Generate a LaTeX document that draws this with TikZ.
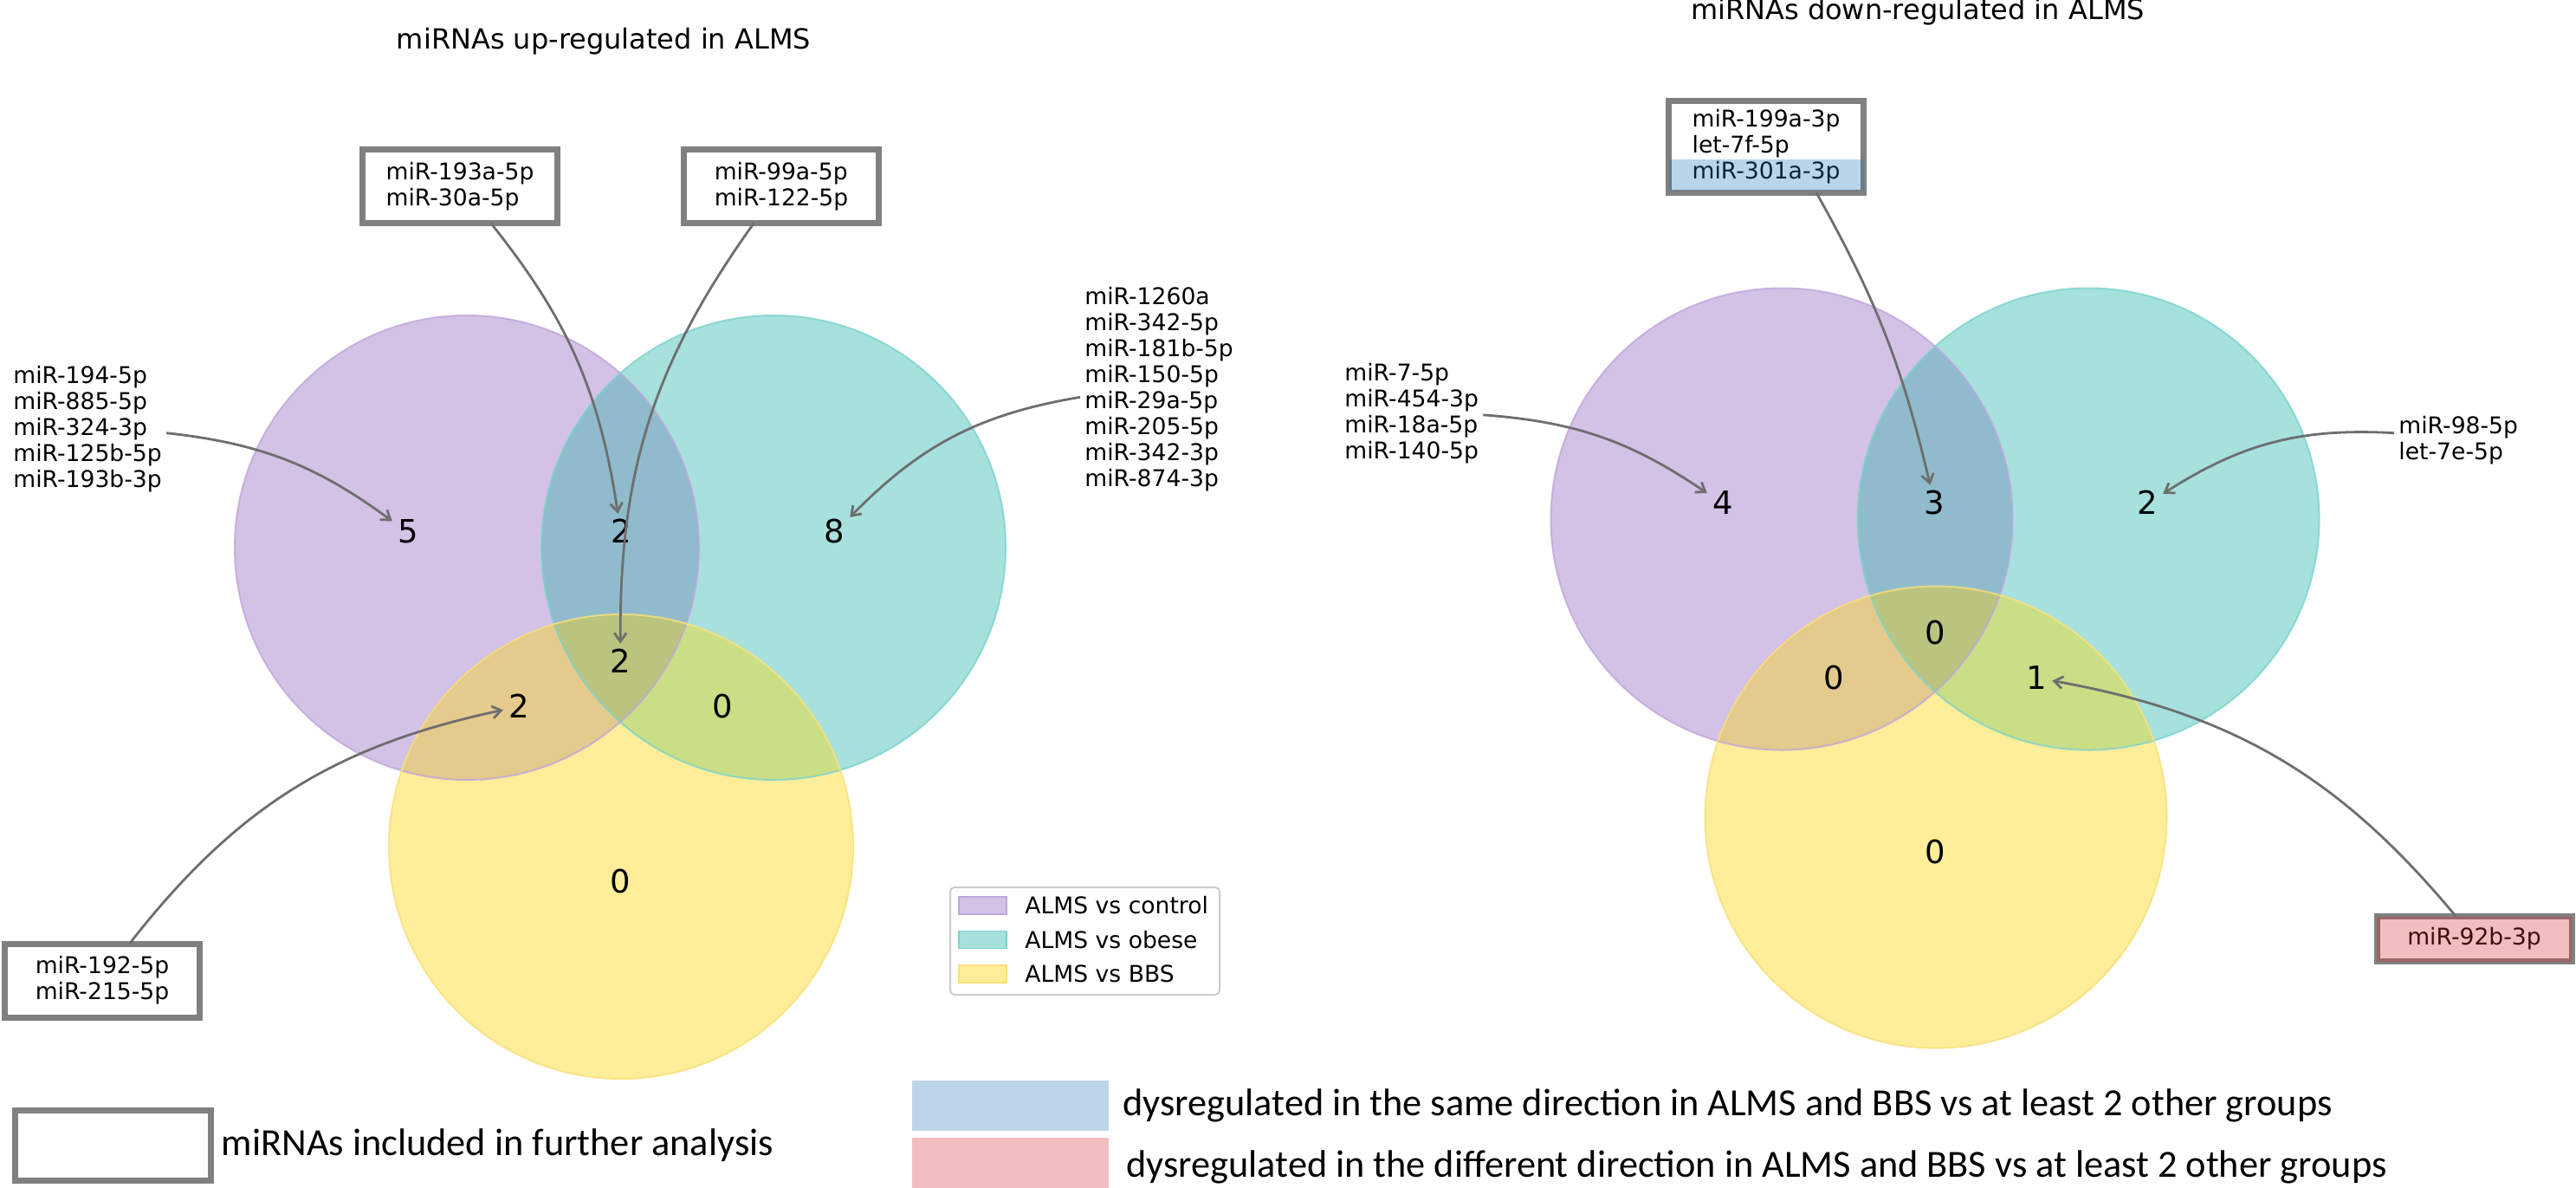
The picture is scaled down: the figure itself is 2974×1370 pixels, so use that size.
\documentclass[tikz,border=0pt]{standalone}
\usepackage{fontspec}
\setmainfont{DejaVu Sans}
\newfontfamily\keyfont{Carlito}
\usetikzlibrary{
  arrows.meta, % for Straight Barb arrow tip
  positioning, % for relative placement of the legend entries
}
\definecolor{vennP}{HTML}{D4C2E6}
\definecolor{vennC}{HTML}{A6E1DE}
\definecolor{vennY}{HTML}{FEED99}
\definecolor{vennPC}{HTML}{8FBBCD}
\definecolor{vennPY}{HTML}{E4CA8C}
\definecolor{vennCY}{HTML}{CADE86}
\definecolor{vennPCY}{HTML}{BAC47F}
\definecolor{edgeP}{HTML}{BFA6DB}
\definecolor{edgeC}{HTML}{7DD3CC}
\definecolor{edgeY}{HTML}{FAE07A}
\definecolor{boxgray}{HTML}{808080}
\definecolor{arrowgray}{HTML}{6E6E6E}
\definecolor{tabblue}{HTML}{1F77B4}
\definecolor{tabred}{HTML}{D62728}
\definecolor{keyblue}{HTML}{BCD6E8}
\definecolor{keyred}{HTML}{F3BEBF}
\tikzset{
  mirlist/.style={ % style for the lists of miRNAs
    align=left, % one miRNA per line, left aligned
    inner sep=2.5pt, % small gap between the text and the arrows
    anchor=west, % placed by the left edge of the list
    font={\fontsize{13.3}{15}\selectfont},
  },
  mirbox/.style={ % style for the boxed miRNAs
    mirlist, % inherit the list style
    anchor=center,
    draw=boxgray,line width=3.5pt,fill=white, % thick gray frame
    minimum width=112.5pt, % all boxes have the same width
    minimum height=42.5pt,
    outer sep=0pt, % anchors on the frame line
  },
  count/.style={ % style for the numbers in the regions
    font={\fontsize{18.5}{20}\selectfont},
    inner sep=3pt, % gap left before the arrow tips
  },
  heading/.style={ % style for the titles
    font={\fontsize{16}{18}\selectfont},
    anchor=base,
  },
  conn/.style={ % style for the arrows
    -{Straight Barb[length=5pt,width=7pt]}, % open arrow tip
    line width=1.4pt,
    draw=arrowgray,
  },
  legframe/.style={ % style for the frame of the legend
    draw=black!20,fill=white,line width=1pt,
    rounded corners=2.5pt,
  },
  legkey/.style={ % style for the colour patches of the legend
    minimum width=27.5pt,minimum height=10pt,
    inner sep=0pt,outer sep=0pt,
    line width=0.75pt,
  },
  legtext/.style={ % style for the legend texts
    font={\fontsize{13.3}{15}\selectfont},
    inner sep=0pt,
  },
  keypatch/.style={ % style for the boxes of the lower legend
    minimum width=113.5pt,minimum height=29pt,
    inner sep=0pt,outer sep=0pt,
  },
  keytext/.style={ % style for the texts of the lower legend
    font={\keyfont\fontsize{22.15}{24}\selectfont},
    inner sep=0pt,
  },
}

\begin{document}
\begin{tikzpicture}[x=0.5pt,y=0.5pt]
	\fill[white] (0,0) rectangle (2974,-1370);
	\useasboundingbox (0,0) rectangle (2974,-1370);
	
	% the two Venn diagrams
	\foreach \side/\px/\py/\cx/\cy/\yx/\yy/\rad in {L/539/-632/893/-632/717/-977/134pt, R/2057/-599/2411/-599/2235/-943/133.25pt}{
		\coordinate (\side-P) at (\px,\py);
		\coordinate (\side-C) at (\cx,\cy);
		\coordinate (\side-Y) at (\yx,\yy);
		\fill[vennP] (\side-P) circle[radius=\rad];
		\fill[vennC] (\side-C) circle[radius=\rad];
		\fill[vennY] (\side-Y) circle[radius=\rad];
		\begin{scope}
			\clip (\side-P) circle[radius=\rad];
			\fill[vennPC] (\side-C) circle[radius=\rad];
			\fill[vennPY] (\side-Y) circle[radius=\rad];
		\end{scope}
		\begin{scope}
			\clip (\side-C) circle[radius=\rad];
			\fill[vennCY] (\side-Y) circle[radius=\rad];
		\end{scope}
		\begin{scope}
			\clip (\side-P) circle[radius=\rad];
			\clip (\side-C) circle[radius=\rad];
			\fill[vennPCY] (\side-Y) circle[radius=\rad];
		\end{scope}
		\draw[edgeP,line width=1pt,opacity=0.8] (\side-P) circle[radius=\rad];
		\draw[edgeC,line width=1pt,opacity=0.8] (\side-C) circle[radius=\rad];
		\draw[edgeY,line width=1pt,opacity=0.8] (\side-Y) circle[radius=\rad];
	}
	
	\node[heading] (titleUp) at (697,-57) {miRNAs up-regulated in ALMS};
	\node[heading] (titleDown) at (2214,-23) {miRNAs down-regulated in ALMS};
	
	% counts of the regions
	\foreach \name/\x/\y/\num in {nLP/471/-613/5, nLPC/717/-613/2, nLC/963/-613/8, nLPCY/716/-763/2, nLPY/599/-815/2, nLCY/834/-815/0, nLY/716/-1017/0, nRP/1989/-580/4, nRPC/2233/-580/3, nRC/2479/-580/2, nRPCY/2234/-730/0, nRPY/2117/-782/0, nRCY/2351/-782/1, nRY/2234/-983/0}
		\node[count] (\name) at (\x,\y) {\num};
	
	\node[mirlist] (upP) at (10,-495.5) {miR-194-5p\\miR-885-5p\\miR-324-3p\\miR-125b-5p\\miR-193b-3p};
	\node[mirlist] (upC) at (1247,-449.5) {miR-1260a\\miR-342-5p\\miR-181b-5p\\miR-150-5p\\miR-29a-5p\\miR-205-5p\\miR-342-3p\\miR-874-3p};
	\node[mirlist] (downP) at (1547,-477.5) {miR-7-5p\\miR-454-3p\\miR-18a-5p\\miR-140-5p};
	\node[mirlist] (downC) at (2764,-508.5) {miR-98-5p\\let-7e-5p};
	
	\node[mirbox] (upPC) at (531,-215) {miR-193a-5p\\miR-30a-5p};
	\node[mirbox] (upPCY) at (902,-215) {miR-99a-5p\\miR-122-5p};
	\node[mirbox] (upPY) at (118,-1131.5) {miR-192-5p\\miR-215-5p};
	\node[mirbox,minimum height=53pt] (downPC) at (2039,-169.5) {miR-199a-3p\\let-7f-5p\\miR-301a-3p};
	\node[mirbox,minimum height=26pt] (downCY) at (2856.5,-1083.5) {miR-92b-3p};
	\fill[tabblue,opacity=0.3] ([yshift=1.25pt]downPC.south west) rectangle ([yshift=19.25pt]downPC.south east);
	\fill[tabred,opacity=0.3] (downCY.south west) rectangle (downCY.north east);
	
	\draw[conn] (upP) to[bend left=15] (nLP);
	\draw[conn] (upPC) to[bend left=15] (nLPC);
	\draw[conn] (upPCY) to[bend right=18] (nLPCY);
	\draw[conn] (upPY) to[bend left=20] (nLPY);
	\draw[conn] (upC) to[bend right=18] (nLC);
	\draw[conn] (downP) to[bend left=15] (nRP);
	\draw[conn] ([xshift=29pt]downPC.south) to[bend left=8] (nRPC);
	\draw[conn] (downC) to[bend right=18] (nRC);
	\draw[conn] (downCY) to[bend right=20] (nRCY);
	
	% legend of the sets
	\draw[legframe] (1097,-1024) rectangle (1408,-1148);
	\node[legkey,fill=vennP,draw=edgeP] (legP) at (1134.5,-1045) {};
	\node[legkey,fill=vennC,draw=edgeC,below=9.75pt of legP] (legC) {};
	\node[legkey,fill=vennY,draw=edgeY,below=9.75pt of legC] (legY) {};
	\node[legtext,right=10.5pt of legP] (legPText) {ALMS vs control};
	\node[legtext,right=10.5pt of legC] (legCText) {ALMS vs obese};
	\node[legtext,right=10.5pt of legY] (legYText) {ALMS vs BBS};
	
	% lower legend
	\node[mirbox,minimum width=113pt,minimum height=40.5pt] (keyBox) at (130.5,-1322) {};
	\node[keytext,right=6pt of keyBox] (keyBoxText) {miRNAs included in further analysis};
	\node[keypatch,fill=keyblue] (keySame) at (1166.5,-1276) {};
	\node[keypatch,fill=keyred] (keyDiff) at (1166.5,-1341.5) {};
	\node[keytext,right=8pt of keySame] (keySameText) {dysregulated in the same direction in ALMS and BBS vs at least 2 other groups};
	\node[keytext,right=10pt of keyDiff,yshift=-2.5pt] (keyDiffText) {dysregulated in the different direction in ALMS and BBS vs at least 2 other groups};
\end{tikzpicture}
\end{document}
